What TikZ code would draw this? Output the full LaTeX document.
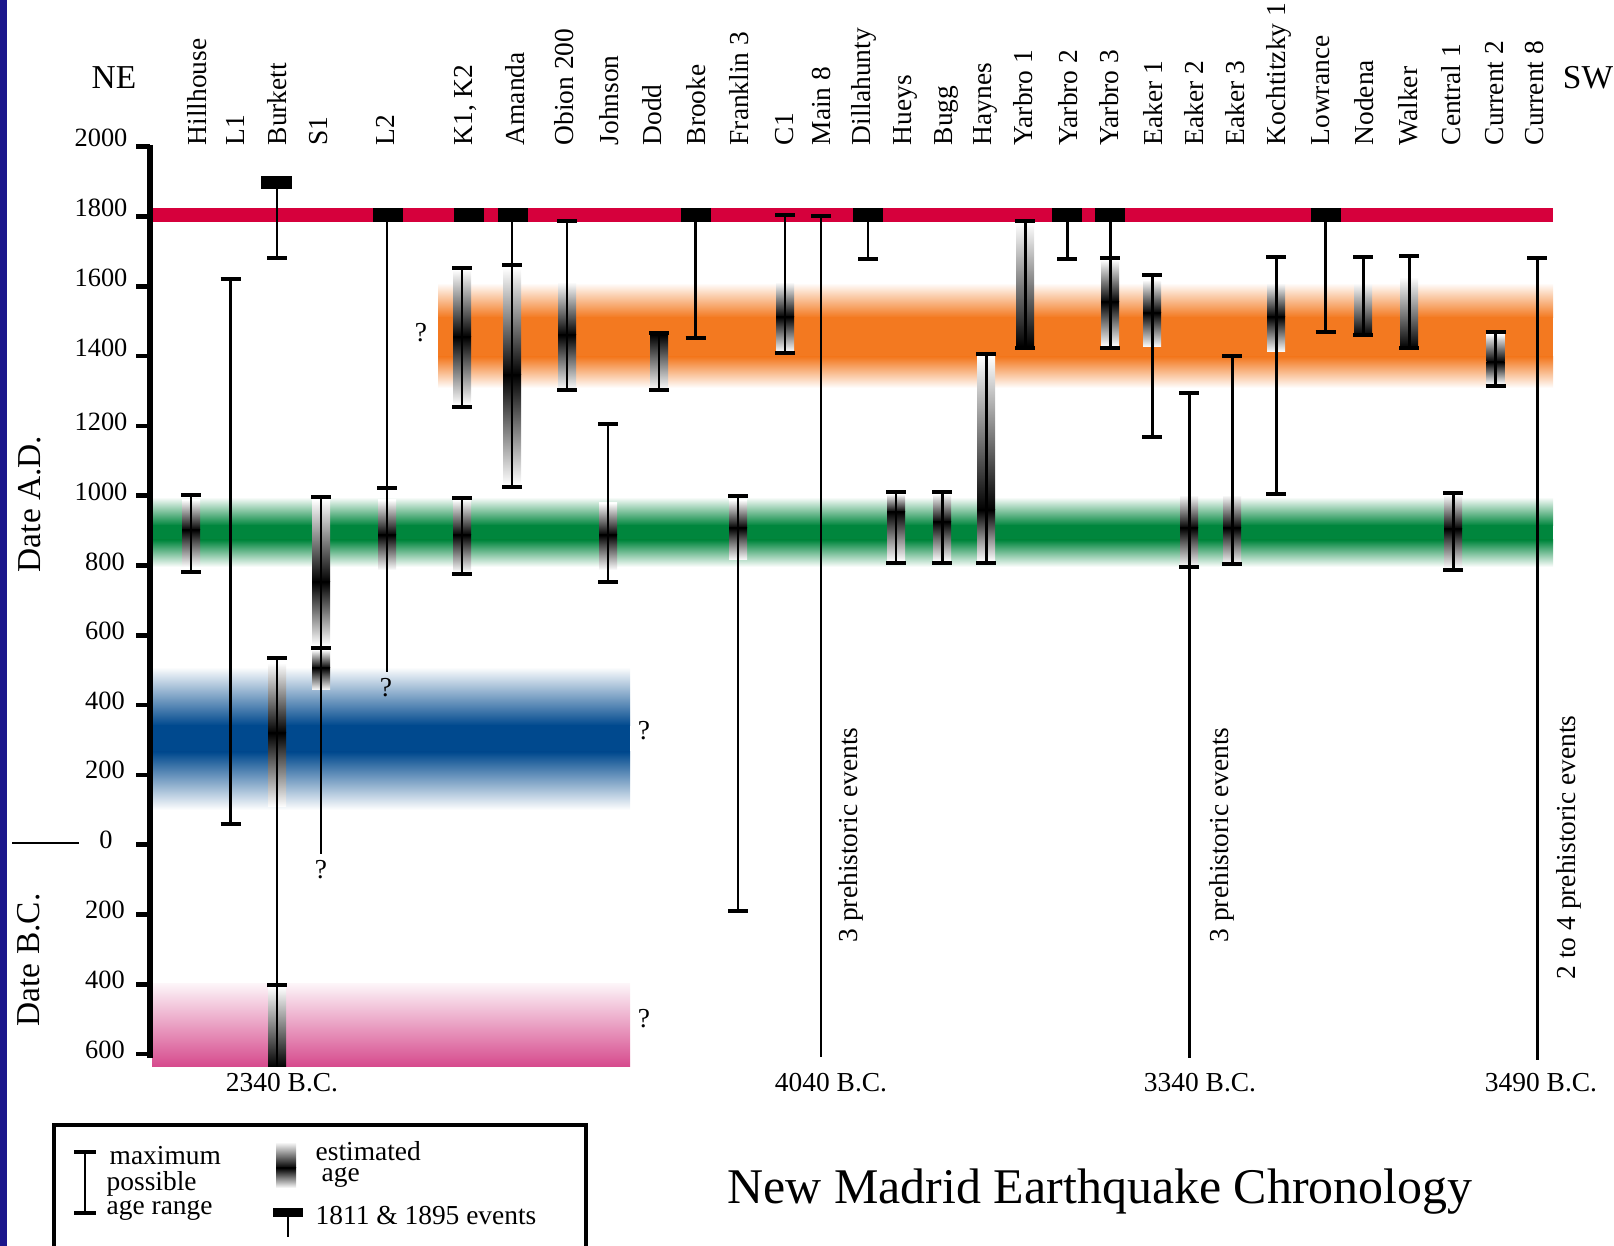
\documentclass[tikz,border=0pt]{standalone}
\usepackage{fontspec}
\setmainfont{Liberation Serif}
\usepackage{xcolor}
\usepackage{tikz}

\definecolor{slideblue}{RGB}{27,22,140}
\definecolor{quakered}{RGB}{214,0,60}
\definecolor{quakeorange}{RGB}{243,121,32}
\definecolor{quakegreen}{RGB}{0,134,61}
\definecolor{quakeblue}{RGB}{0,73,142}
\definecolor{quakepink}{RGB}{214,73,140}

\tikzset{
  site/.style={rotate=90, anchor=base west, inner sep=0pt, font=\fontsize{7.8}{9}\selectfont},
  yearlab/.style={anchor=base, inner sep=0pt, font=\fontsize{7.5}{9}\selectfont},
  bigtext/.style={inner sep=0pt, font=\fontsize{9.5}{11}\selectfont},
  smalltext/.style={inner sep=0pt, font=\fontsize{7.8}{9}\selectfont},
  titletext/.style={anchor=base, inner sep=0pt, font=\fontsize{14.2}{17}\selectfont},
  rangeline/.style={line width=0.85pt},
  rangecap/.style={line width=1pt},
  axisline/.style={line width=1.5pt},
  tickmark/.style={line width=1.3pt}
}

\newcommand{\agespan}[3]{\draw[rangeline] (#1,#2) -- (#1,#3);
  \draw[rangecap] (#1-10,#2) -- (#1+10,#2) (#1-10,#3) -- (#1+10,#3);}
\newcommand{\agecap}[2]{\draw[rangecap] (#1-10,#2) -- (#1+10,#2);}
\newcommand{\agestem}[3]{\draw[rangeline] (#1,#2) -- (#1,#3);}
\newcommand{\agepeak}[4]{\shade[top color=white, middle color=black!75, bottom color=black] (#1-9,#2) rectangle (#1+9,#3);
  \shade[top color=black, middle color=black!75, bottom color=white] (#1-9,#3) rectangle (#1+9,#4);}
\newcommand{\agedark}[3]{\shade[top color=white, middle color=black!75, bottom color=black] (#1-9,#2) rectangle (#1+9,#3);}
\newcommand{\agelight}[3]{\shade[top color=black, middle color=black!75, bottom color=white] (#1-9,#2) rectangle (#1+9,#3);}
\newcommand{\quake}[1]{\fill (#1-15,208) rectangle (#1+15,222);}

\begin{document}
\begin{tikzpicture}[x=0.01cm, y=-0.01cm]
            \useasboundingbox (0,0) rectangle (1614,1246);
            \fill[slideblue] (0,0) rectangle (7,1246);

            \shade[top color=white, bottom color=quakeorange] (438,283) rectangle (1553,317.5);
            \fill[quakeorange] (438,317) rectangle (1553,357.5);
            \shade[top color=quakeorange, bottom color=white] (438,357) rectangle (1553,388);
            \shade[top color=white, bottom color=quakegreen] (152,497) rectangle (1553,525.5);
            \fill[quakegreen] (152,525) rectangle (1553,540.5);
            \shade[top color=quakegreen, bottom color=white] (152,540) rectangle (1553,567);
            \shade[top color=white, bottom color=quakeblue] (152,667) rectangle (630,725.5);
            \fill[quakeblue] (152,725) rectangle (630,752.5);
            \shade[top color=quakeblue, bottom color=white] (152,752) rectangle (630,810);
            \shade[top color=quakepink!6, bottom color=quakepink] (152,984) rectangle (630,1067);
            \fill[quakered] (152,208) rectangle (1553,222);

            \agepeak{191}{500}{530}{567}
            \agespan{191}{495}{572}
            \agespan{230.5}{279}{824}
            \agestem{277}{189}{258}\agecap{277}{258}
            \agepeak{277}{663}{733}{807}
            \agedark{277}{987}{1067}
            \agestem{277}{658}{1067}\agecap{277}{658}\agecap{277}{985}
            \agepeak{321}{500}{582}{645}
            \agepeak{321}{650}{668}{690}
            \agestem{321}{497}{854}\agecap{321}{497}\agecap{321}{648}
            \agepeak{387}{500}{535}{570}
            \agestem{387}{222}{672}\agecap{387}{488}
            \agepeak{462}{270}{337}{405}\agespan{462}{268}{407}
            \agepeak{462}{500}{535}{572}\agespan{462}{498}{574}
            \agepeak{512}{268}{375}{485}\agestem{512}{222}{487}\agecap{512}{265}\agecap{512}{487}
            \agepeak{567}{282}{335}{390}\agespan{567}{221}{390}
            \agepeak{608}{503}{535}{570}\agespan{608}{424}{582}
            \agelight{659}{335}{390}\agespan{659}{333}{390}
            \agestem{695.5}{222}{338}\agecap{695.5}{338}
            \agepeak{738}{500}{528}{560}\agespan{738}{496}{911}
            \agepeak{785}{282}{317}{352}\agespan{785}{215}{353}
            \agestem{821}{216}{1057}\agecap{821}{216}
            \agestem{868}{222}{259}\agecap{868}{259}
            \agepeak{896}{494}{512}{561}\agespan{896}{492}{563}
            \agepeak{942}{494}{522}{561}\agespan{942}{492}{563}
            \agepeak{986}{356}{510}{561}\agespan{986}{354}{563}
            \agedark{1025}{223}{346}\agespan{1025}{221}{348}
            \agestem{1067}{222}{259}\agecap{1067}{259}
            \agepeak{1110}{260}{302}{346}\agestem{1110}{222}{348}\agecap{1110}{258}\agecap{1110}{348}
            \agepeak{1152}{280}{313}{347}\agespan{1152}{275}{437}
            \agepeak{1189}{495}{528}{567}\agestem{1189}{393}{1058}\agecap{1189}{393}\agecap{1189}{567}
            \agepeak{1232}{495}{528}{564}\agespan{1232}{356}{564}
            \agepeak{1276}{283}{317}{352}\agespan{1276}{257}{494}
            \agestem{1325.6}{222}{332}\agecap{1325.6}{332}
            \agedark{1363}{283}{335}\agespan{1363}{257}{335}
            \agedark{1409}{277}{348}\agespan{1409}{256}{348}
            \agepeak{1453}{495}{529}{568}\agespan{1453}{493}{570}
            \agepeak{1495.5}{334}{362}{384}\agespan{1495.5}{332}{386}
            \agestem{1537}{258}{1060}\agecap{1537}{258}

            \fill (261,176) rectangle (292,189);
            \quake{388}\quake{469}\quake{513}\quake{695.5}\quake{868}\quake{1067}\quake{1109.5}\quake{1325.6}

            \draw[axisline] (150,145) -- (150,1058);
            \draw[tickmark] (136,146.7) -- (150,146.7) (136,216.5) -- (150,216.5) (136,286.3) -- (150,286.3)
              (136,356.1) -- (150,356.1) (136,425.9) -- (150,425.9) (136,495.7) -- (150,495.7)
              (136,565.5) -- (150,565.5) (136,635.3) -- (150,635.3) (136,705.1) -- (150,705.1)
              (136,774.9) -- (150,774.9) (136,844.7) -- (150,844.7) (136,914.5) -- (150,914.5)
              (136,984.3) -- (150,984.3) (136,1054.1) -- (150,1054.1);
            \draw[line width=0.8pt] (12,843) -- (79,843);

            \node[yearlab] (y2000) at (101,147) {2000};
            \node[yearlab] (y1800) at (101,217) {1800};
            \node[yearlab] (y1600) at (101,287) {1600};
            \node[yearlab] (y1400) at (101,357) {1400};
            \node[yearlab] (y1200) at (101,431) {1200};
            \node[yearlab] (y1000) at (101,501) {1000};
            \node[yearlab] (y800) at (105,571) {800};
            \node[yearlab] (y600) at (105,640) {600};
            \node[yearlab] (y400) at (105,710) {400};
            \node[yearlab] (y200) at (105,779) {200};
            \node[yearlab] (y0) at (106,849) {0};
            \node[yearlab] (b200) at (105,919) {200};
            \node[yearlab] (b400) at (105,989) {400};
            \node[yearlab] (b600) at (105,1059) {600};

            \node[bigtext, rotate=90] (dad) at (29.5,504) {Date A.D.};
            \node[bigtext, rotate=90] (dbc) at (29,960) {Date B.C.};
            \node[bigtext, anchor=base] (ne) at (114,89) {NE};
            \node[bigtext, anchor=base] (sw) at (1588,89) {SW};

            \node[site] (c1) at (206,146) {Hillhouse};
            \node[site] (c2) at (244,146) {L1};
            \node[site] (c3) at (286,146) {Burkett};
            \node[site] (c4) at (327,146) {S1};
            \node[site] (c5) at (394,146) {L2};
            \node[site] (c6) at (472,146) {K1, K2};
            \node[site] (c7) at (524,146) {Amanda};
            \node[site] (c8) at (573,146) {Obion 200};
            \node[site] (c9) at (618,146) {Johnson};
            \node[site] (c10) at (661,146) {Dodd};
            \node[site] (c11) at (705,146) {Brooke};
            \node[site] (c12) at (748,146) {Franklin 3};
            \node[site] (c13) at (793,146) {C1};
            \node[site] (c14) at (830,146) {Main 8};
            \node[site] (c15) at (870,146) {Dillahunty};
            \node[site] (c16) at (911,146) {Hueys};
            \node[site] (c17) at (952,146) {Bugg};
            \node[site] (c18) at (991,146) {Haynes};
            \node[site] (c19) at (1032,146) {Yarbro 1};
            \node[site] (c20) at (1077,146) {Yarbro 2};
            \node[site] (c21) at (1118,146) {Yarbro 3};
            \node[site] (c22) at (1162,146) {Eaker 1};
            \node[site] (c23) at (1203,146) {Eaker 2};
            \node[site] (c24) at (1244,146) {Eaker 3};
            \node[site] (c25) at (1285,146) {Kochtitzky 1};
            \node[site] (c26) at (1329,146) {Lowrance};
            \node[site] (c27) at (1373,146) {Nodena};
            \node[site] (c28) at (1417,146) {Walker};
            \node[site] (c29) at (1460,146) {Central 1};
            \node[site] (c30) at (1503,146) {Current 2};
            \node[site] (c31) at (1543,146) {Current 8};

            \node[smalltext] (q1) at (421,333) {?};
            \node[smalltext] (q2) at (386,688) {?};
            \node[smalltext] (q3) at (644,731) {?};
            \node[smalltext] (q4) at (321,870) {?};
            \node[smalltext] (q5) at (644,1019) {?};

            \node[site] (p1) at (857,943) {3 prehistoric events};
            \node[site] (p2) at (1228,943) {3 prehistoric events};
            \node[site] (p3) at (1575,980) {2 to 4 prehistoric events};

            \node[smalltext, anchor=base] (d1) at (282,1092) {2340 B.C.};
            \node[smalltext, anchor=base] (d2) at (831,1092) {4040 B.C.};
            \node[smalltext, anchor=base] (d3) at (1200,1092) {3340 B.C.};
            \node[smalltext, anchor=base] (d4) at (1541,1092) {3490 B.C.};

            \draw[line width=1pt] (54,1252) -- (54,1125) -- (586,1125) -- (586,1252);
            \draw[rangeline] (85,1152) -- (85,1213);
            \draw[rangecap] (74,1152) -- (96,1152) (74,1213) -- (96,1213);
            \node[smalltext, anchor=base west] (k1) at (109,1165) {maximum};
            \node[smalltext, anchor=base west] (k2) at (106,1190) {possible};
            \node[smalltext, anchor=base west] (k3) at (106,1215) {age range};
            \shade[top color=white, middle color=black!75, bottom color=black] (276,1142) rectangle (296,1168);
            \shade[top color=black, middle color=black!75, bottom color=white] (276,1168) rectangle (296,1188);
            \node[smalltext, anchor=base west] (k4) at (315,1160) {estimated};
            \node[smalltext, anchor=base west] (k5) at (321,1182) {age};
            \fill (273,1208) rectangle (303,1217);
            \draw[rangeline] (288,1217) -- (288,1237);
            \node[smalltext, anchor=base west] (k6) at (315,1225) {1811 \& 1895 events};

            \node[titletext] (title) at (1100,1203) {New Madrid Earthquake Chronology};
        \end{tikzpicture}
\end{document}
